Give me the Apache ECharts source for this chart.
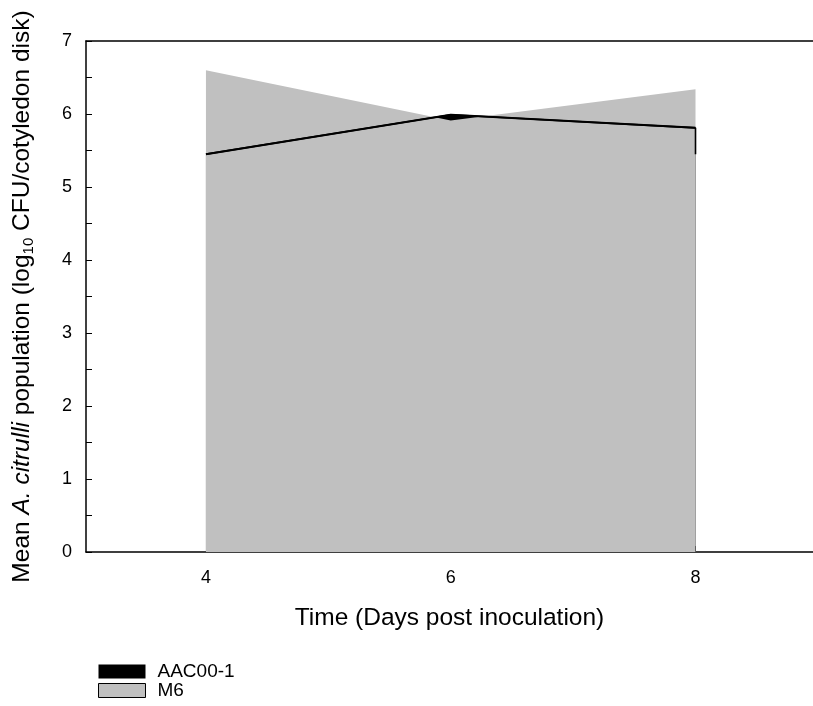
<!DOCTYPE html>
<html>
<head>
<meta charset="utf-8">
<script src="https://cdn.jsdelivr.net/npm/echarts@6/dist/echarts.min.js"></script>
<style>html,body{margin:0;padding:0;background:#fff}#c{width:813px;height:706px}</style>
</head>
<body>
<div id="c"></div>
<script>
var days = [4, 6, 8];
var aac = [5.45, 5.99, 5.81];
var m6 = [6.60, 5.91, 6.34];
var errDay = [8];
var errLow = [5.45];
var errHigh = [5.81];
var xTicks = [4, 6, 8];

function pairs(xs, ys) { return xs.map(function (x, i) { return [x, ys[i]]; }); }

var FONT = 'Liberation Sans';
var chart = echarts.init(document.getElementById('c'), null, {renderer: 'canvas'});
chart.setOption({
  animation: false,
  textStyle: {fontFamily: FONT, color: '#000'},
  grid: {left: 86, top: 41, right: 0, height: 511, show: false},
  legend: {
    orient: 'vertical', left: 98, top: 662, padding: 0, itemWidth: 47, itemHeight: 14, itemGap: 0,
    icon: 'rect',
    textStyle: {fontFamily: FONT, fontSize: 19, lineHeight: 16, color: '#000', padding: [0, 0, 0, 7]},
    data: [
      {name: 'AAC00-1', itemStyle: {color: '#000'}},
      {name: 'M6', itemStyle: {color: '#c0c0c0', borderColor: '#000', borderWidth: 1}}
    ]
  },
  xAxis: [{
    type: 'value', min: 3.02, max: 8.96,
    name: 'Time (Days post inoculation)', nameLocation: 'middle', nameGap: 54,
    nameTextStyle: {fontFamily: FONT, fontSize: 24.5, color: '#000'},
    axisLine: {show: true, lineStyle: {color: '#000', width: 1.5}},
    axisTick: {show: true, inside: true, length: 6, customValues: xTicks, lineStyle: {color: '#000', width: 1}},
    axisLabel: {customValues: xTicks, fontFamily: FONT, fontSize: 18, color: '#000', margin: 17},
    splitLine: {show: false}
  }, {
    type: 'value', min: 3.02, max: 8.96, position: 'top',
    axisLine: {show: true, onZero: false, lineStyle: {color: '#000', width: 1.5}},
    axisTick: {show: false}, axisLabel: {show: false}, splitLine: {show: false}
  }],
  yAxis: {
    type: 'value', min: 0, max: 7, interval: 1,
    name: '{n|Mean }{i|A. citrulli}{n| population (log}{s|10}{n| CFU/cotyledon disk)}',
    nameLocation: 'middle', nameGap: 50, nameRotate: 90,
    nameTextStyle: {
      fontFamily: FONT, fontSize: 24.5, color: '#000',
      rich: {
        n: {fontFamily: FONT, fontSize: 24.5, color: '#000'},
        i: {fontFamily: FONT, fontSize: 24.5, fontStyle: 'italic', color: '#000'},
        s: {fontFamily: FONT, fontSize: 15, color: '#000', verticalAlign: 'bottom', padding: [13, 0, 0, 0]}
      }
    },
    axisLine: {show: true, lineStyle: {color: '#000', width: 1.5}},
    axisTick: {show: true, inside: true, length: 6, lineStyle: {color: '#000', width: 1}},
    minorTick: {show: true, splitNumber: 2, length: 6, lineStyle: {color: '#000', width: 1}},
    axisLabel: {fontFamily: FONT, fontSize: 18, color: '#000', margin: 14},
    splitLine: {show: false}
  },
  series: [
    {
      name: 'AAC00-1', type: 'line', data: pairs(days, aac), symbol: 'none',
      itemStyle: {color: '#000'},
      lineStyle: {color: '#000', width: 2},
      areaStyle: {color: '#000', opacity: 1}
    },
    {
      name: 'M6', type: 'line', data: pairs(days, m6), symbol: 'none',
      itemStyle: {color: '#c0c0c0'},
      lineStyle: {width: 0, color: '#c0c0c0'},
      areaStyle: {color: '#c0c0c0', opacity: 1}
    },
    {
      name: 'aac-line', type: 'line', data: pairs(days, aac), symbol: 'none',
      lineStyle: {color: '#000', width: 1.6}
    },
    {
      name: 'aac-err', type: 'line',
      data: [[errDay[0], errLow[0]], [errDay[0], errHigh[0]]], symbol: 'none',
      lineStyle: {color: '#000', width: 1.6}
    }
  ]
});
</script>
</body>
</html>
